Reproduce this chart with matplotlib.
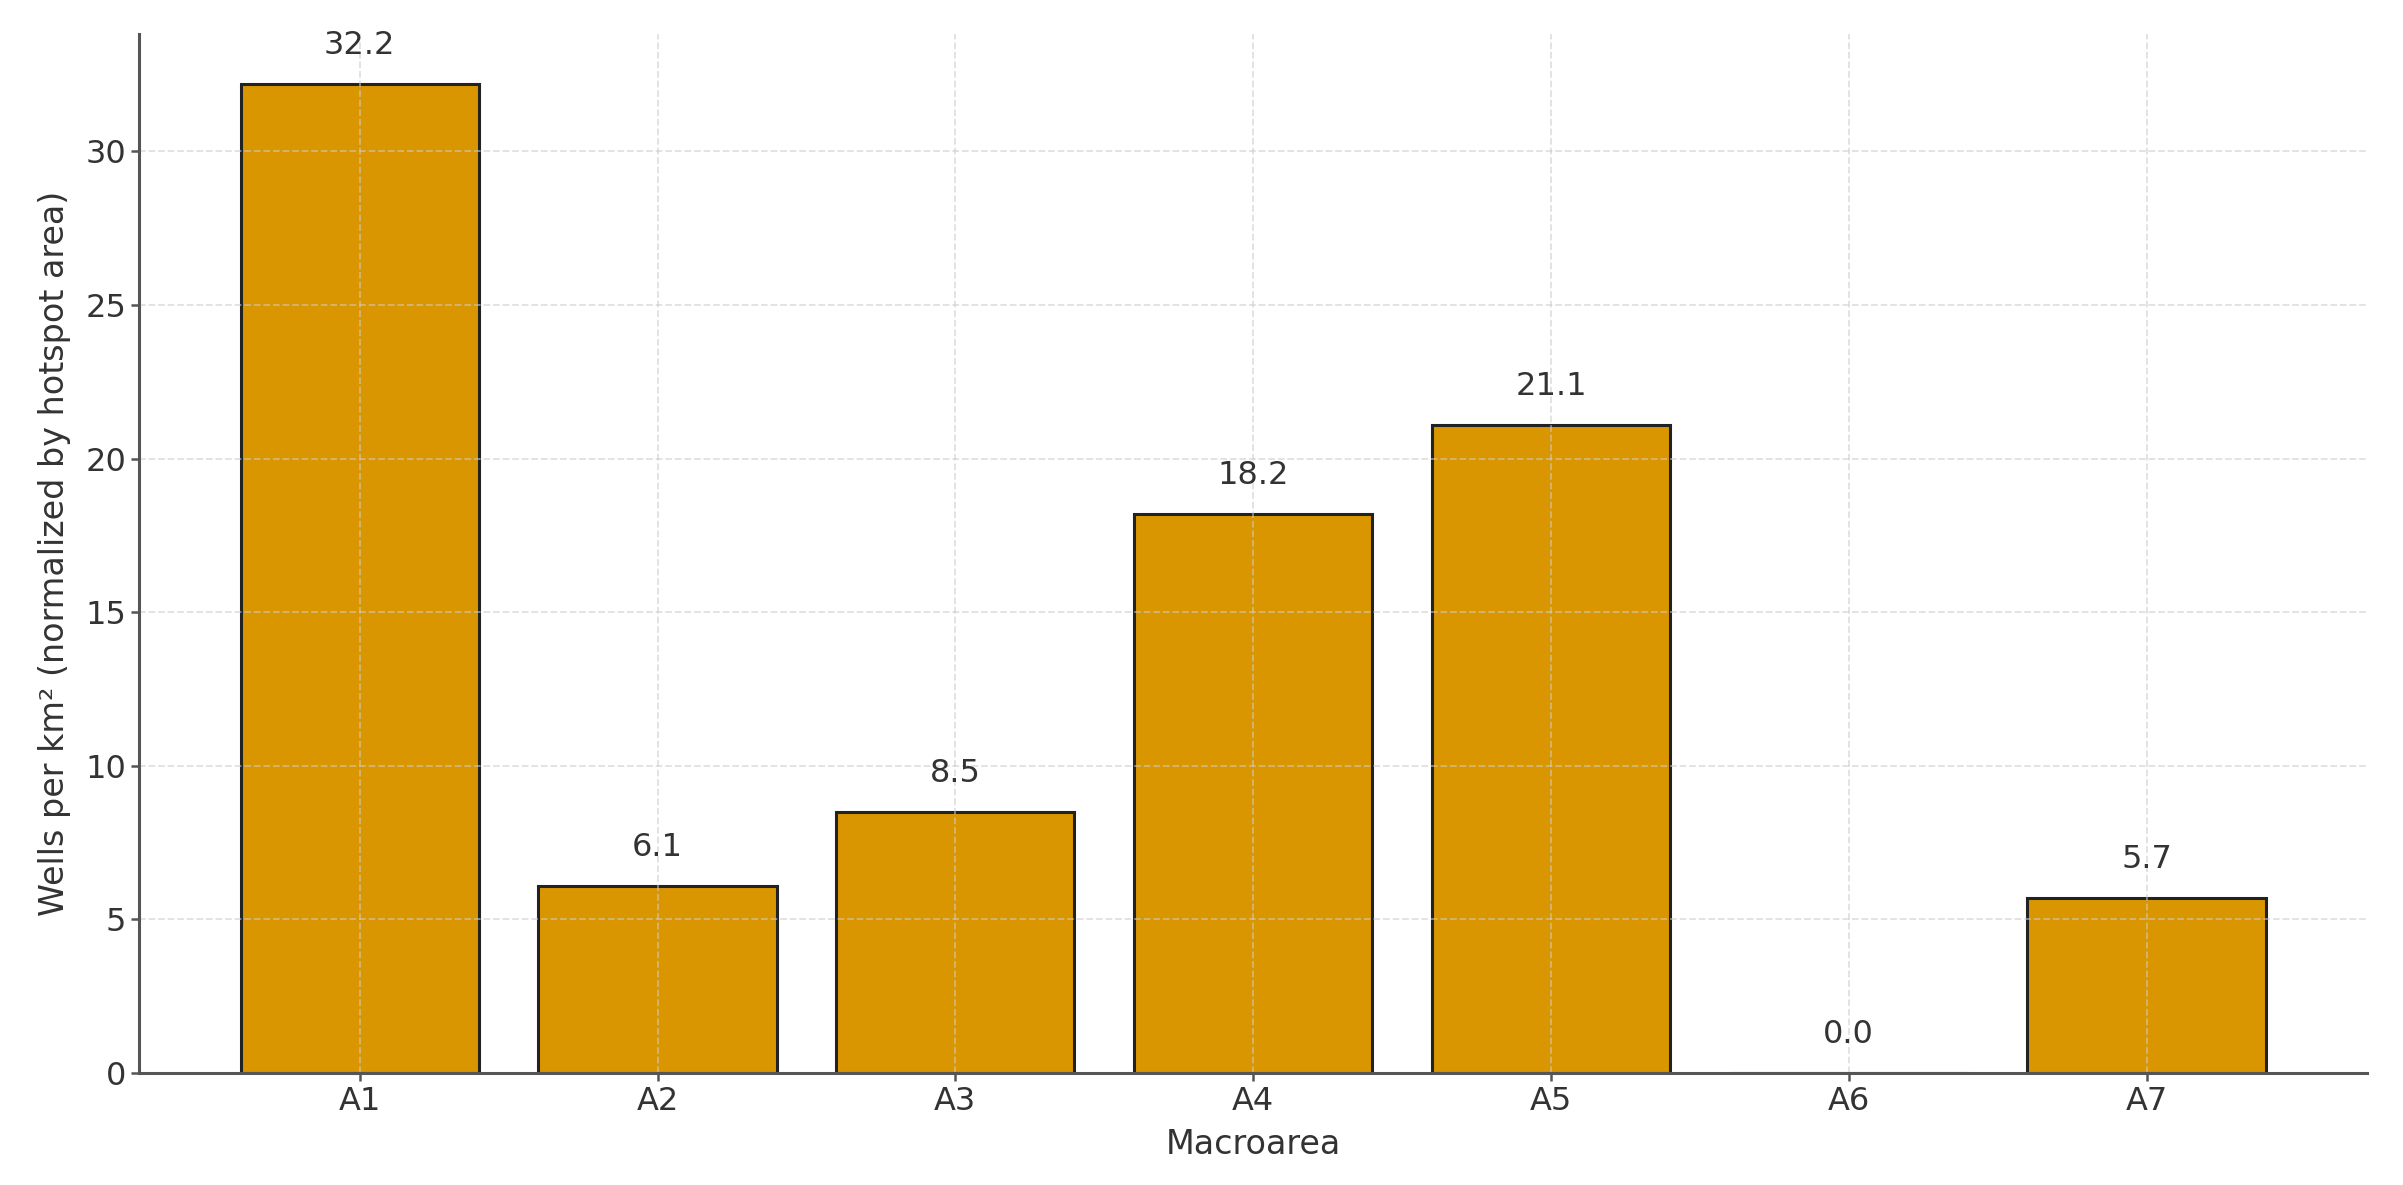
import matplotlib
matplotlib.use("Agg")
import matplotlib.pyplot as plt

# macroarea density values
areas = ["A1", "A2", "A3", "A4", "A5", "A6", "A7"]
density = [32.2, 6.1, 8.5, 18.2, 21.1, 0.0, 5.7]

bar_color = "#d99600"
text_color = "#333333"
spine_color = "#555555"

plt.rcParams['font.family'] = ['DejaVu Sans']

fig = plt.figure(figsize=(24.03, 11.85), dpi=100)
ax = fig.add_axes([0.058, 0.0945, 0.927, 0.8765])

bars = ax.bar(areas, density, width=0.8, color=bar_color,
              edgecolor="#222222", linewidth=2.2)

# value labels above bars
for rect, v in zip(bars, density):
    ax.text(rect.get_x() + rect.get_width() / 2, v + 0.75, "{:.1f}".format(v),
            ha="center", va="bottom", fontsize=23, color=text_color)

ax.set_ylim(0, max(density) * 1.05)
ax.set_xlabel("Macroarea", fontsize=24, color=text_color, labelpad=8)
ax.set_ylabel("Wells per km\u00b2 (normalized by hotspot area)", fontsize=24,
              color=text_color, labelpad=10)

ax.grid(True, linestyle="--", color="#cccccc", linewidth=1.3, alpha=0.6)

for side in ["top", "right"]:
    ax.spines[side].set_visible(False)
for side in ["left", "bottom"]:
    ax.spines[side].set_color(spine_color)
    ax.spines[side].set_linewidth(2.2)

ax.tick_params(axis="both", labelsize=23, colors=spine_color, labelcolor=text_color,
               length=6, width=1.8)

fig.savefig("out.png", dpi=100)
